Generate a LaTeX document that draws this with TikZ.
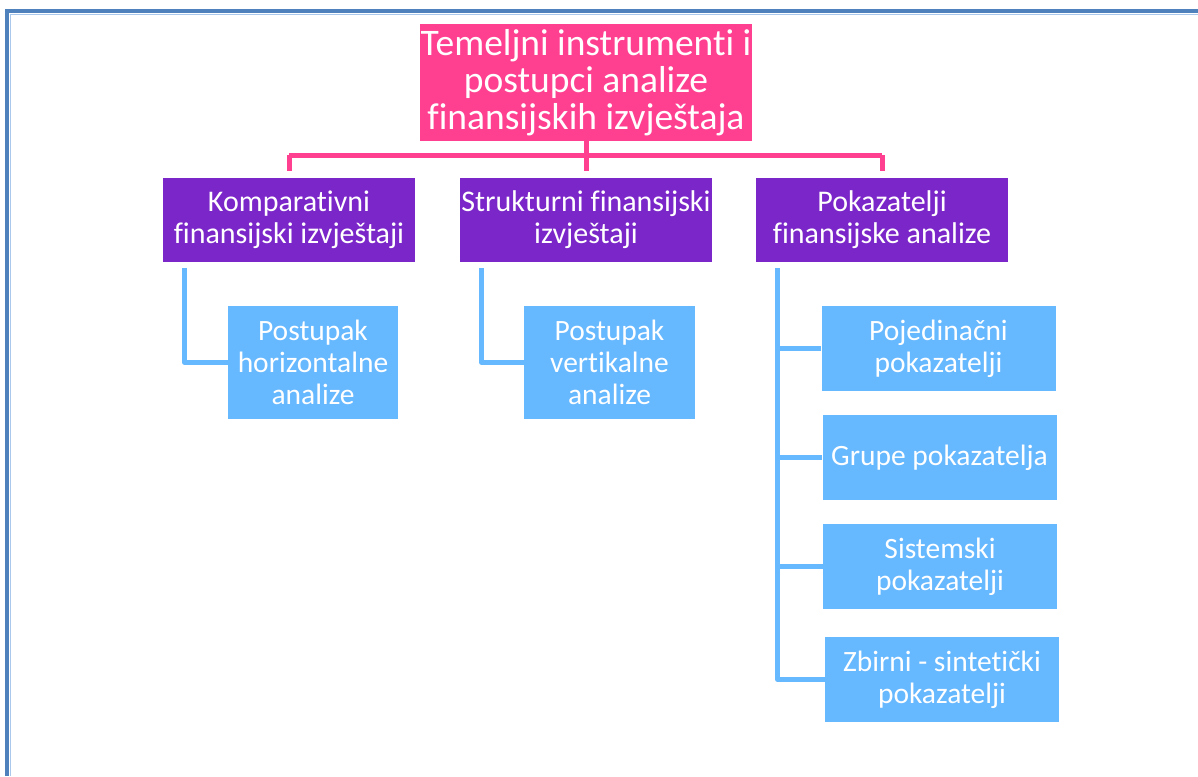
\documentclass[tikz,border=0pt]{standalone}
\usepackage{fontspec}
\setmainfont{Carlito}[Ligatures=NoCommon]

\definecolor{rootpink}{RGB}{255,64,145}
\definecolor{grppurple}{RGB}{123,38,201}
\definecolor{leafblue}{RGB}{102,184,255}
\definecolor{frameblue}{RGB}{79,129,189}
\definecolor{framelight}{RGB}{170,200,235}

\tikzset{
  root/.style={fill=rootpink,text=white,minimum width=332pt,minimum height=117pt,align=center,inner sep=0pt,font=\fontsize{37.5}{37}\selectfont},
  grp/.style={fill=grppurple,text=white,minimum width=252pt,minimum height=84pt,align=center,inner sep=0pt,font=\fontsize{30}{32}\selectfont},
  leaf/.style={fill=leafblue,text=white,minimum height=85pt,align=center,inner sep=0pt,font=\fontsize{29.5}{32}\selectfont},
  pinkline/.style={draw=rootpink,line width=5pt},
  blueline/.style={draw=leafblue,line width=5pt,line join=round}
}

\begin{document}
\begin{tikzpicture}[x=1pt,y=-1pt]
\useasboundingbox (0,0) rectangle (1198,776);
% frame
\draw [frameblue,line width=4pt] (7,776) -- (7,11) -- (1198,11);
\draw [framelight,line width=1.5pt] (10.5,776) -- (10.5,14.5) -- (1198,14.5);
% boxes
\node [root] (root) at (586,82.5) {Temeljni instrumenti i\\postupci analize\\finansijskih izvještaja};
\node [grp] (komp) at (289,220) {Komparativni\\finansijski izvještaji};
\node [grp] (strukt) at (586,220) {Strukturni finansijski\\izvještaji};
\node [grp] (pok) at (882,220) {Pokazatelji\\finansijske analize};
\node [leaf,minimum width=170pt,minimum height=113pt] (horiz) at (313,362.5) {Postupak\\horizontalne\\analize};
\node [leaf,minimum width=171pt,minimum height=113pt] (vert) at (609.5,362.5) {Postupak\\vertikalne\\analize};
\node [leaf,minimum width=234pt] (pojed) at (938.5,348.5) {Pojedinačni\\pokazatelji};
\node [leaf,minimum width=234pt] (grupe) at (939.5,457.5) {Grupe pokazatelja};
\node [leaf,minimum width=234pt] (sist) at (940,566.5) {Sistemski\\pokazatelji};
\node [leaf,minimum width=234pt] (zbir) at (942,679.5) {Zbirni - sintetički\\pokazatelji};
% pink connectors
\coordinate (bus) at (586,155);
\draw [pinkline] (root.south) -- (root.south |- bus);
\draw [pinkline] (komp.north |- bus) -- (pok.north |- bus);
\foreach \g in {komp,strukt,pok}
  \draw [pinkline,shorten >=7pt] (\g.north |- bus) -- (\g.north);
% blue connectors
\draw [blueline] ([xshift=22pt,yshift=-6pt]komp.south west) |- (horiz.west);
\draw [blueline] ([xshift=22pt,yshift=-6pt]strukt.south west) |- (vert.west);
\coordinate (trunk) at ([xshift=22pt,yshift=-6pt]pok.south west);
\draw [blueline] (trunk) |- (zbir.west);
\foreach \l in {pojed,grupe,sist}
  \draw [blueline] (\l.west -| trunk) -- (\l.west);
\end{tikzpicture}
\end{document}
